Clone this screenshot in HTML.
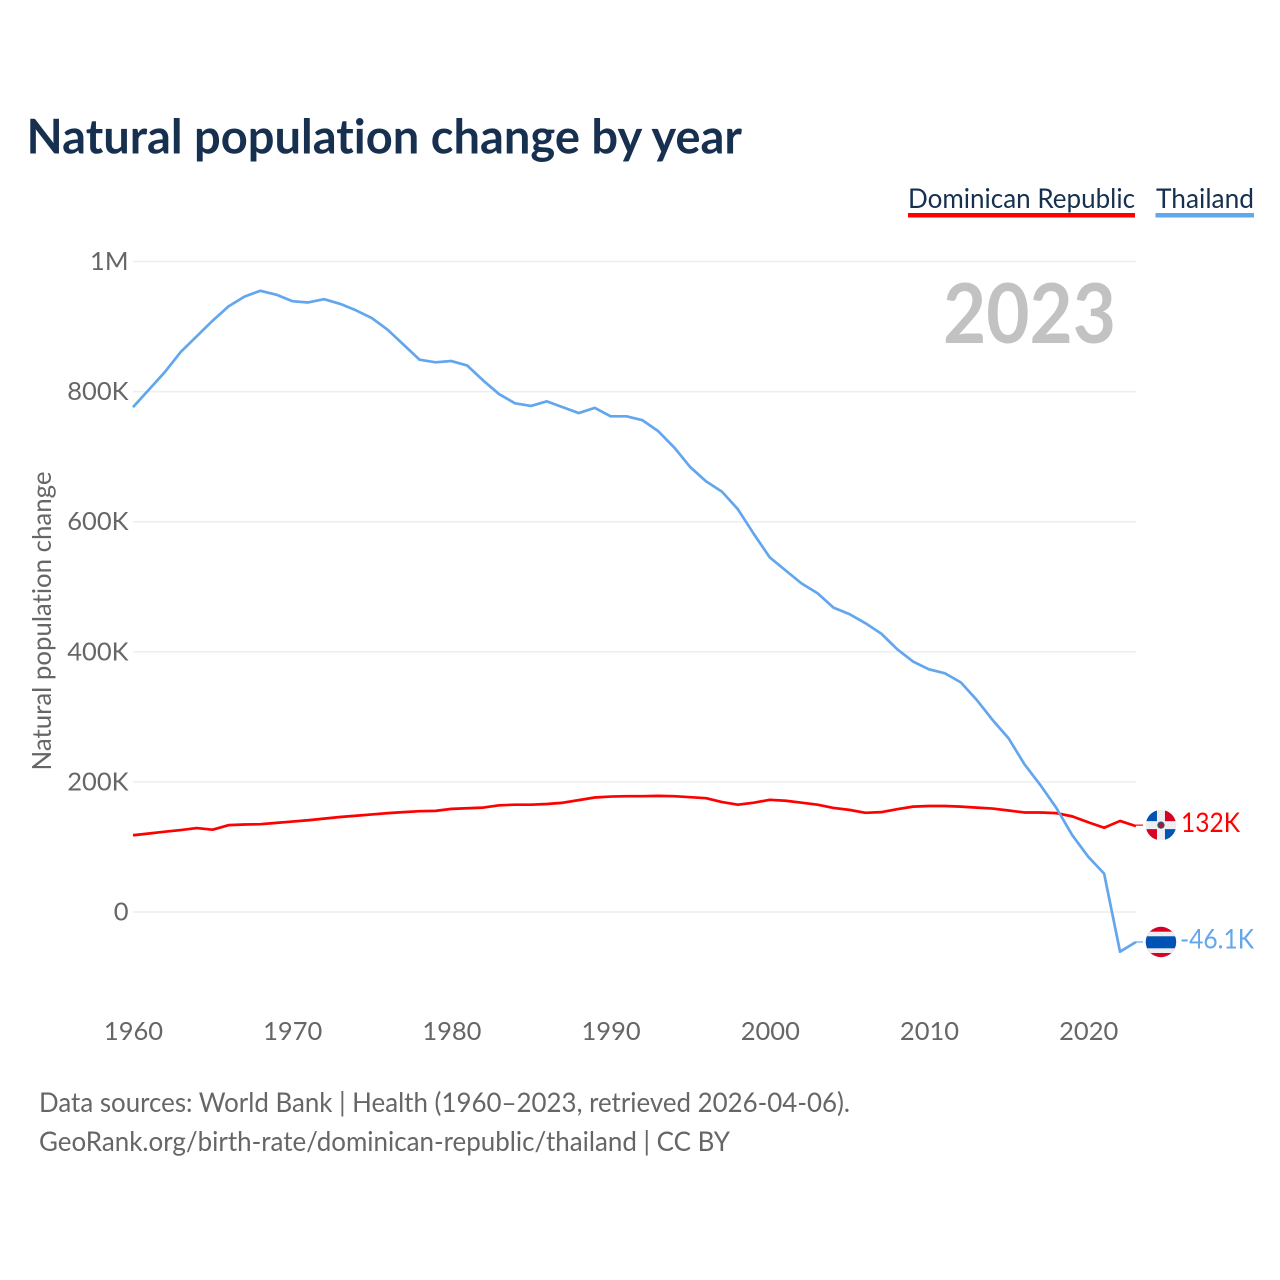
<!DOCTYPE html>
<html lang="en">
<head>
<meta charset="utf-8">
<title>Natural population change by year</title>
<style>
html,body{margin:0;padding:0;background:#fff;width:1280px;height:1280px;overflow:hidden}
svg{display:block}
text{font-family:"Lato","Carlito","Liberation Sans",sans-serif;font-variant-ligatures:none}
</style>
</head>
<body>
<svg id="chart" width="1280" height="1280" viewBox="0 0 1280 1280" xmlns="http://www.w3.org/2000/svg">
  <defs>
    <clipPath id="flag-clip-dr"><circle cx="0" cy="0" r="15.2"/></clipPath>
    <clipPath id="flag-clip-th"><circle cx="0" cy="0" r="15.2"/></clipPath>
  </defs>
  <text x="26.5" y="153.5" font-size="48" font-weight="700" fill="#17304f" textLength="715.5" lengthAdjust="spacingAndGlyphs">Natural population change by year</text>

  <text x="908" y="208" font-size="27" fill="#17304f" textLength="227" lengthAdjust="spacingAndGlyphs">Dominican Republic</text>
  <rect x="908" y="213" width="227" height="4.5" fill="#ff0000"/>
  <text x="1156" y="208" font-size="27" fill="#17304f" textLength="98" lengthAdjust="spacingAndGlyphs">Thailand</text>
  <rect x="1155.5" y="213" width="98.5" height="4.5" fill="#62a6ee"/>

  <text x="943" y="343" font-size="82" font-weight="700" fill="#c2c2c2" textLength="173" lengthAdjust="spacingAndGlyphs">2023</text>

  <text transform="translate(51,770.5) rotate(-90)" x="0" y="0" font-size="26" fill="#666666" textLength="299" lengthAdjust="spacingAndGlyphs">Natural population change</text>

  <g id="grid"></g>
  <g id="y-ticks"></g>
  <g id="x-ticks"></g>
  <g id="series"></g>
  <g id="end-labels"></g>

  <text x="39" y="1112" font-size="27" fill="#666666" textLength="811" lengthAdjust="spacingAndGlyphs">Data sources: World Bank | Health (1960–2023, retrieved 2026-04-06).</text>
  <text x="39" y="1151" font-size="27" fill="#666666" textLength="691" lengthAdjust="spacingAndGlyphs">GeoRank.org/birth-rate/dominican-republic/thailand | CC BY</text>
</svg>
<script>
const startYear = 1960;
const yTickValues = [0, 200, 400, 600, 800, 1000];
const yTickLabels = ["0", "200K", "400K", "600K", "800K", "1M"];
const xTickYears = [1960, 1970, 1980, 1990, 2000, 2010, 2020];
const dominicanValues = [118,120.7,123.5,126,129,126.5,133.5,134.5,135,137,139,141,143.5,146,148,150,152,153.5,155,155.5,158.5,159.5,160.5,164,165,165,166,168,172,176,177.5,178,178,178.5,178,176.5,175,169,165,168,172.5,171,168,165,160,157,152.5,153.5,158,162,163,163,162,160.5,159,156,153,153,152,147,138,129.5,140,132];
const thailandValues = [776,803,830,861,885,909,931,946,955,949,939,937,942,935,925,913,895,872,849,845,847,840,817,796,782,778,785,776,767,775,762,762,756,739,714,684,662,646,619,581,545,525,505,490,468,458,444,428,404,385,373,367,353,326,295,267,227,195,160,118,85,59,-61,-46.1];
const dominicanEndLabel = "132K";
const thailandEndLabel = "-46.1K";

const NS = "http://www.w3.org/2000/svg";
function xScale(year) { return 133 + (year - 1960) * 15.92; }
function yScale(value) { return 912 - value * 0.6505; }
function make(tag, attrs, parent) {
  const el = document.createElementNS(NS, tag);
  for (const k in attrs) el.setAttribute(k, attrs[k]);
  parent.appendChild(el);
  return el;
}
const grid = document.getElementById("grid");
const yTicks = document.getElementById("y-ticks");
const xTicks = document.getElementById("x-ticks");
const series = document.getElementById("series");
const endLabels = document.getElementById("end-labels");

yTickValues.forEach(function (v, i) {
  const line = make("line", {x1: 133, x2: 1136, y1: yScale(v), y2: yScale(v), stroke: "#eeeeee", "stroke-width": 1.5}, grid);
  
  
  const t = make("text", {x: 128.5, y: yScale(v) + 8.5, "text-anchor": "end", "font-size": 25.5, fill: "#666666"}, yTicks);
  
  
  t.textContent = yTickLabels[i];
});
xTickYears.forEach(function (y) {
  const t = make("text", {x: xScale(y) + 0.5, y: 1040, "text-anchor": "middle", "font-size": 25.5, fill: "#666666"}, xTicks);
  
  
  t.textContent = y;
});
function linePoints(values) {
  return values.map(function (v, i) {
    return xScale(startYear + i).toFixed(2) + "," + yScale(v).toFixed(2);
  }).join(" ");
}
const thaiLine = make("polyline", {points: linePoints(thailandValues), fill: "none", stroke: "#62a6ee", "stroke-width": 2.7, "stroke-linejoin": "round"}, series);


const drLine = make("polyline", {points: linePoints(dominicanValues), fill: "none", stroke: "#ff0000", "stroke-width": 2.7, "stroke-linejoin": "round"}, series);


series.appendChild(drLine);
series.appendChild(thaiLine);

const lastIndex = thailandValues.length - 1;
const endX = xScale(startYear + lastIndex);
const flagX = endX + 25;

const drY = yScale(dominicanValues[lastIndex]);
const drConn = make("line", {x1: endX, x2: endX + 7, y1: drY - 1, y2: drY - 1, stroke: "#ff0000", "stroke-width": 1.2}, endLabels);


const drFlag = make("g", {transform: "translate(" + flagX + "," + (drY - 1) + ")", "clip-path": "url(#flag-clip-dr)"}, endLabels);


make("rect", {x: -16, y: -16, width: 32, height: 32, fill: "#eeeeee"}, drFlag);
make("rect", {x: -16, y: -16, width: 12, height: 12, fill: "#0052b4"}, drFlag);
make("rect", {x: 4, y: -16, width: 12, height: 12, fill: "#d80027"}, drFlag);
make("rect", {x: -16, y: 4, width: 12, height: 12, fill: "#d80027"}, drFlag);
make("rect", {x: 4, y: 4, width: 12, height: 12, fill: "#0052b4"}, drFlag);
make("circle", {cx: 0, cy: 0, r: 3.6, fill: "#3a4a6a"}, drFlag);
make("circle", {cx: 0, cy: 0, r: 1.8, fill: "#d80027"}, drFlag);
const drText = make("text", {x: 1181, y: drY + 6, "font-size": 27, fill: "#ff0000", textLength: 59, lengthAdjust: "spacingAndGlyphs"}, endLabels);


drText.textContent = dominicanEndLabel;

const thY = yScale(thailandValues[lastIndex]);
const thConn = make("line", {x1: endX, x2: endX + 7, y1: thY, y2: thY, stroke: "#62a6ee", "stroke-width": 1.2}, endLabels);


const thFlag = make("g", {transform: "translate(" + flagX + "," + thY + ")", "clip-path": "url(#flag-clip-th)"}, endLabels);


make("rect", {x: -16, y: -16, width: 32, height: 32, fill: "#d80027"}, thFlag);
make("rect", {x: -16, y: -10.3, width: 32, height: 21.3, fill: "#eeeeee"}, thFlag);
make("rect", {x: -16, y: -5.7, width: 32, height: 12, fill: "#0052b4"}, thFlag);
const thText = make("text", {x: 1180, y: thY + 6.5, "font-size": 27, fill: "#62a6ee", textLength: 74, lengthAdjust: "spacingAndGlyphs"}, endLabels);


thText.textContent = thailandEndLabel;
</script>
</body>
</html>
